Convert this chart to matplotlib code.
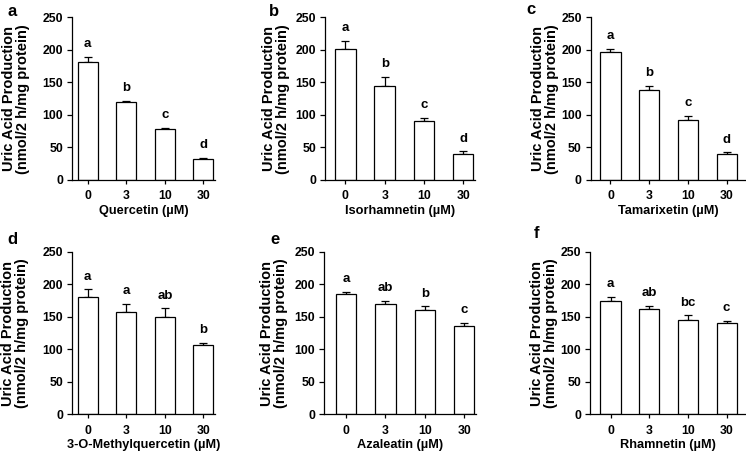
import matplotlib
matplotlib.use("Agg")
import matplotlib.pyplot as plt

plt.rcParams['font.family'] = ['Liberation Sans', 'DejaVu Sans']
plt.rcParams['font.weight'] = 'bold'

concentrations = ["0", "3", "10", "30"]

compounds = ["Quercetin", "Isorhamnetin", "Tamarixetin",
             "3-O-Methylquercetin", "Azaleatin", "Rhamnetin"]
panel_letters = ["a", "b", "c", "d", "e", "f"]

quercetin_mean = [181, 120, 78, 33]
quercetin_err = [8, 2, 1.5, 1]
quercetin_sig = ["a", "b", "c", "d"]

isorhamnetin_mean = [202, 145, 90, 40]
isorhamnetin_err = [12, 14, 5, 4]
isorhamnetin_sig = ["a", "b", "c", "d"]

tamarixetin_mean = [196, 138, 92, 40]
tamarixetin_err = [6, 7, 6, 2.5]
tamarixetin_sig = ["a", "b", "c", "d"]

methylquercetin_mean = [181, 157, 150, 106]
methylquercetin_err = [11, 13, 13, 4]
methylquercetin_sig = ["a", "a", "ab", "b"]

azaleatin_mean = [185, 169, 161, 136]
azaleatin_err = [3.5, 5, 5, 4.7]
azaleatin_sig = ["a", "ab", "b", "c"]

rhamnetin_mean = [174, 162, 145, 141]
rhamnetin_err = [6.5, 4.6, 7, 2.5]
rhamnetin_sig = ["a", "ab", "bc", "c"]

means = [quercetin_mean, isorhamnetin_mean, tamarixetin_mean,
         methylquercetin_mean, azaleatin_mean, rhamnetin_mean]
errs = [quercetin_err, isorhamnetin_err, tamarixetin_err,
        methylquercetin_err, azaleatin_err, rhamnetin_err]
sigs = [quercetin_sig, isorhamnetin_sig, tamarixetin_sig,
        methylquercetin_sig, azaleatin_sig, rhamnetin_sig]

W, H = 746, 455
fig = plt.figure(figsize=(W / 100, H / 100), dpi=100)

# axes pixel boxes: (left, right, top(250), bottom(0))
boxes = [(72, 215, 17.3, 180), (325, 475, 17.3, 180), (590.7, 746, 17.3, 180),
         (72, 215, 251.7, 414.3), (324, 476, 251.7, 414.3), (590, 746, 251.7, 414.3)]
xlims = [(-0.41, 3.3), (-0.52, 3.3), (-0.51, 3.5),
         (-0.41, 3.3), (-0.56, 3.3), (-0.53, 3.5)]
ylabel_offset = [42, 35, 32, 43, 36, 32]
letter_pos = [(12, 11), (274, 11), (531, 10), (12, 240), (275, 239), (536, 234)]

for i in range(6):
    l, r, t, b = boxes[i]
    ax = fig.add_axes([l / W, 1 - b / H, (r - l) / W, (b - t) / H])
    x = list(range(len(concentrations)))
    ax.bar(x, means[i], width=0.52, color='white', edgecolor='black',
           linewidth=0.9, zorder=2)
    ax.errorbar(x, means[i], yerr=[[0] * 4, errs[i]], fmt='none',
                ecolor='black', elinewidth=0.9, capsize=2.6, capthick=0.9,
                zorder=1)
    for xi, m, e, s in zip(x, means[i], errs[i], sigs[i]):
        ax.text(xi, m + e + 15, s, ha='center', va='baseline',
                fontsize=9.5, fontweight='bold')
    ax.set_ylim(0, 250)
    ax.set_xlim(*xlims[i])
    ax.set_yticks([0, 50, 100, 150, 200, 250])
    ax.set_xticks(x)
    ax.set_xticklabels(concentrations)
    ax.spines['top'].set_visible(False)
    ax.spines['right'].set_visible(False)
    for sp in ['left', 'bottom']:
        ax.spines[sp].set_linewidth(0.9)
    ax.tick_params(axis='y', length=3.5, width=0.9, pad=3, labelsize=8.8)
    ax.tick_params(axis='x', length=3.0, width=0.9, pad=4.5, labelsize=8.8)
    for lab in ax.get_xticklabels() + ax.get_yticklabels():
        lab.set_fontweight('bold')
    ax.set_xlabel(f"{compounds[i]} (\u00b5M)", fontsize=9.2,
                  fontweight='bold', labelpad=1.8)
    ax.set_ylabel("Uric Acid Production\n(nmol/2 h/mg protein)",
                  fontsize=10.5, fontweight='bold', linespacing=1.0)
    ax.yaxis.set_label_coords(-ylabel_offset[i] / (r - l), 0.5)
    fig.text(letter_pos[i][0] / W, 1 - letter_pos[i][1] / H, panel_letters[i],
             fontsize=12, fontweight='bold', ha='center', va='center')

fig.savefig("out.png", dpi=100)
